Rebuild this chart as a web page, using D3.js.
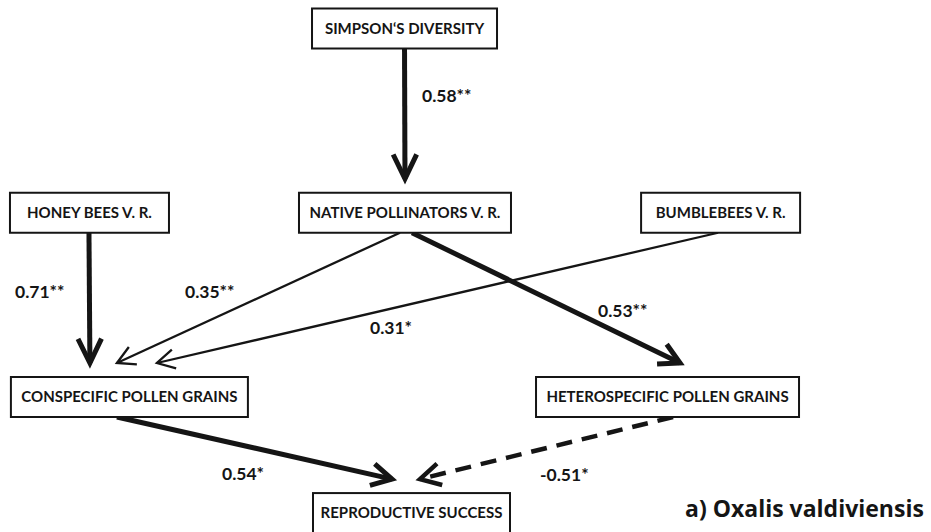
<!DOCTYPE html>
<html>
<head>
<meta charset="utf-8">
<script src="https://cdn.jsdelivr.net/npm/d3@7"></script>
<style>
  html, body { margin: 0; padding: 0; background: #fff; }
  svg { display: block; }
</style>
</head>
<body>
<svg id="path-diagram"></svg>
<script>
// path model (data)
const nodeNames = [
  "SIMPSON‘S DIVERSITY",
  "HONEY BEES V. R.",
  "NATIVE POLLINATORS V. R.",
  "BUMBLEBEES V. R.",
  "CONSPECIFIC POLLEN GRAINS",
  "HETEROSPECIFIC POLLEN GRAINS",
  "REPRODUCTIVE SUCCESS"
];
const edgeFrom = [0, 1, 2, 3, 2, 4, 5];
const edgeTo   = [2, 4, 4, 4, 5, 6, 6];
const edgeCoef = [0.58, 0.71, 0.35, 0.31, 0.53, 0.54, -0.51];
const edgeSig  = ["**", "**", "**", "*", "**", "*", "*"];
const caption = "a) Oxalis valdiviensis";

// layout (positions only, not data)
const width = 931, height = 532;
const nodeCol = [0.4345, 0.0961, 0.435, 0.774, 0.139, 0.717, 0.442]; // fraction of width
const nodeRow = [0, 1, 1, 1, 2, 2, 2.63];
const nodeW   = [185, 159, 212, 159, 237, 263, 197];
const boxH = 40;
// anchor offsets (px from box centre) where each edge leaves / arrives
const startDx = [0, -0.5, -5, -2.5, 7, -12.5, 5.5];
const endDx   = [0, -39.5, -12.5, 27.5, 12.5, -19.5, 8.5];
const labelPos = [[422, 102], [15, 298], [185, 298], [370, 334], [598, 317], [222, 480], [540, 481]];

const x = d3.scaleLinear().domain([0, 1]).range([0, width]);
const y = d3.scaleLinear().domain([0, 2]).range([28.5, 397]);
const strokeW = d3.scaleThreshold().domain([0.5]).range([2.3, 5]);
const ink = "#151515";

const nodes = nodeNames.map((name, i) => ({
  name, cx: x(nodeCol[i]), cy: y(nodeRow[i]), w: nodeW[i]
}));

const svg = d3.select("#path-diagram")
  .attr("width", width)
  .attr("height", height)
  .attr("viewBox", `0 0 ${width} ${height}`);

svg.append("rect").attr("width", width).attr("height", height).attr("fill", "#fff");

// edges
const edges = edgeFrom.map((s, i) => {
  const src = nodes[s], tgt = nodes[edgeTo[i]];
  const x1 = src.cx + startDx[i], y1 = src.cy + boxH / 2;
  const x2 = tgt.cx + endDx[i], y2 = tgt.cy - boxH / 2 - 14;
  const coef = edgeCoef[i];
  return {
    x1, y1, x2, y2, coef,
    label: (coef < 0 ? "-" : "") + Math.abs(coef).toFixed(2) + edgeSig[i],
    sw: coef < 0 ? 4.5 : strokeW(Math.abs(coef)),
    dashed: coef < 0,
    lx: labelPos[i][0], ly: labelPos[i][1]
  };
});

const eg = svg.append("g").attr("class", "edges");

eg.selectAll("line.edge")
  .data(edges)
  .join("line")
  .attr("class", "edge")
  .attr("x1", d => d.x1).attr("y1", d => d.y1)
  .attr("x2", d => d.x2).attr("y2", d => d.y2)
  .attr("stroke", ink)
  .attr("stroke-width", d => d.sw)
  .attr("stroke-dasharray", d => d.dashed ? "16,10" : null);

// arrowheads: open chevrons
const headPath = d => {
  const vertical = Math.abs(d.x2 - d.x1) < 5;
  const ang = Math.atan2(d.y2 - d.y1, d.x2 - d.x1);
  const len = d.sw > 3 ? (vertical ? 27 : 23) : 20;
  const spread = d.sw > 3 && vertical ? 0.45 : 0.5;
  const p = a => [d.x2 - len * Math.cos(ang + a), d.y2 - len * Math.sin(ang + a)];
  const l = p(spread), r = p(-spread);
  return `M${l[0]},${l[1]}L${d.x2},${d.y2}L${r[0]},${r[1]}`;
};

eg.selectAll("path.head")
  .data(edges)
  .join("path")
  .attr("class", "head")
  .attr("d", headPath)
  .attr("fill", "none")
  .attr("stroke", ink)
  .attr("stroke-width", d => d.sw)
  .attr("stroke-linejoin", "miter")
  .attr("stroke-linecap", "butt");

eg.selectAll("text.coef")
  .data(edges)
  .join("text")
  .attr("class", "coef")
  .attr("x", d => d.lx)
  .attr("y", d => d.ly)
  .attr("font-family", "Lato, 'Open Sans', sans-serif")
  .attr("font-weight", 700)
  .attr("font-size", 17.5)
  .attr("fill", ink)
  .text(d => d.label);

// boxes
const ng = svg.append("g").attr("class", "nodes")
  .selectAll("g.node")
  .data(nodes)
  .join("g")
  .attr("class", "node")
  .attr("transform", d => `translate(${d.cx},${d.cy})`);

ng.append("rect")
  .attr("x", d => -d.w / 2)
  .attr("y", -boxH / 2)
  .attr("width", d => d.w)
  .attr("height", boxH)
  .attr("fill", "#fff")
  .attr("stroke", ink)
  .attr("stroke-width", 2);

ng.append("text")
  .attr("text-anchor", "middle")
  .attr("dy", "0.36em")
  .attr("font-family", "Lato, 'Open Sans', sans-serif")
  .attr("font-weight", 700)
  .attr("font-size", 15)
  .attr("fill", ink)
  .text(d => d.name);

svg.append("text")
  .attr("x", 685)
  .attr("y", 517)
  .attr("font-family", "'Open Sans', sans-serif")
  .attr("font-weight", 700)
  .attr("font-size", 23)
  .attr("fill", ink)
  .text(caption);
</script>
</body>
</html>
